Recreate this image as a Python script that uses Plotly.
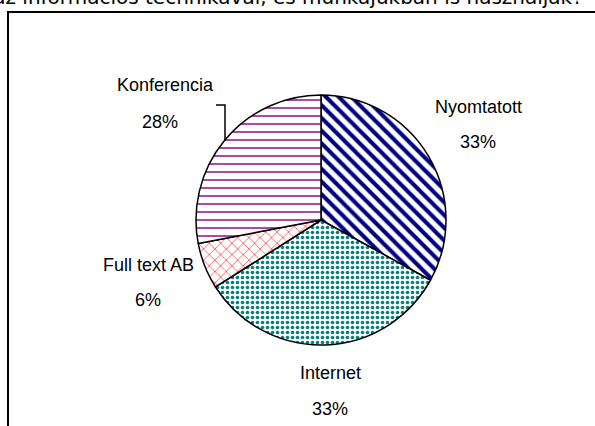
import plotly.graph_objects as go

W, H = 595, 426

labels = ["Nyomtatott", "Internet", "Full text AB", "Konferencia"]
values = [33, 33, 6, 28]
pct_text = ["33%", "33%", "6%", "28%"]

# pattern look per slice
pat_shapes = ["\\", ".", "x", "-"]
pat_colors = ["#000080", "#008080", "#FF4040", "#993399"]
pat_sizes = [9, 5, 8, 8]
pat_solid = [0.45, 0.4, 0.18, 0.22]

# label anchor points in pixels (name line, percent line)
label_px = [(478, 107), (330, 373), (148, 265), (165, 85)]
pct_px = [(478, 142), (330, 409), (148, 300), (160, 122)]


def px(x):
    return x / W


def py(y):
    return 1 - y / H


cx, cy, r = 321, 220, 125

fig = go.Figure(go.Pie(
    labels=labels,
    values=values,
    sort=False,
    direction="clockwise",
    rotation=0,
    textinfo="none",
    hoverinfo="label+percent",
    showlegend=False,
    domain=dict(x=[px(cx - r), px(cx + r)], y=[py(cy + r), py(cy - r)]),
    marker=dict(
        colors=["white"] * 4,
        line=dict(color="black", width=1.5),
        pattern=dict(shape=pat_shapes, fgcolor=pat_colors, bgcolor="white",
                     size=pat_sizes, solidity=pat_solid, fillmode="replace"),
    ),
))

font = dict(family="Liberation Sans, Arial, sans-serif", size=18, color="black")
ann = []
for name, pct, (lx, ly), (qx, qy) in zip(labels, pct_text, label_px, pct_px):
    ann.append(dict(x=px(lx), y=py(ly), xref="paper", yref="paper", text=name,
                    showarrow=False, font=font, xanchor="center", yanchor="middle"))
    ann.append(dict(x=px(qx), y=py(qy), xref="paper", yref="paper", text=pct,
                    showarrow=False, font=font, xanchor="center", yanchor="middle"))

# cut-off question text at the very top
ann.append(dict(x=px(585), y=py(11), xref="paper", yref="paper",
                text="Mennyire ismerik az információs technikával, és munkájukban is használják?",
                showarrow=False, xanchor="right", yanchor="bottom",
                font=dict(family="DejaVu Sans, Verdana, sans-serif", size=20, color="black")))

shapes = [
    # frame, only top and left edges visible
    dict(type="rect", xref="paper", yref="paper", x0=px(8), y0=-0.2, x1=1.2, y1=py(12),
         line=dict(color="black", width=2)),
    # Konferencia leader bracket
    dict(type="path", xref="paper", yref="paper",
         path=f"M {px(216)},{py(105)} L {px(225)},{py(105)} L {px(225)},{py(141)}",
         line=dict(color="black", width=1.5)),
]

fig.update_layout(
    width=W, height=H,
    margin=dict(l=0, r=0, t=0, b=0),
    paper_bgcolor="white",
    plot_bgcolor="white",
    annotations=ann,
    shapes=shapes,
)

fig.write_html("out.html", config={"displayModeBar": False},
               post_script="document.body.style.margin='0';")
